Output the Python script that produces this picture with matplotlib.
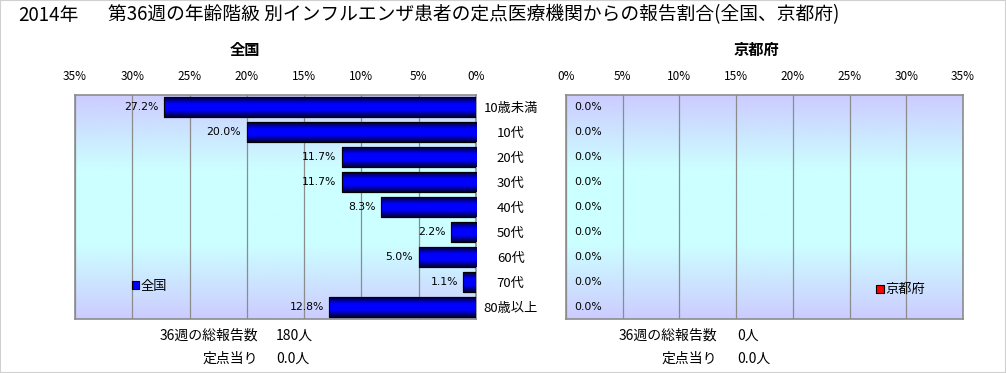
import numpy as np
import matplotlib
matplotlib.use("Agg")
import matplotlib.pyplot as plt
from matplotlib.colors import LinearSegmentedColormap
from matplotlib.patches import Rectangle

plt.rcParams['font.family'] = ['Noto Sans CJK JP', 'DejaVu Sans']

# data
ages = ['10歳未満', '10代', '20代', '30代', '40代', '50代', '60代', '70代', '80歳以上']
zenkoku = [27.2, 20.0, 11.7, 11.7, 8.3, 2.2, 5.0, 1.1, 12.8]
kyoto = [0.0, 0.0, 0.0, 0.0, 0.0, 0.0, 0.0, 0.0, 0.0]
xticks = [0, 5, 10, 15, 20, 25, 30, 35]
zen_total = '180人'
zen_per = '0.0人'
kyo_total = '0人'
kyo_per = '0.0人'

W, H = 1006, 373
fig = plt.figure(figsize=(W / 100, H / 100), dpi=100)
fig.patch.set_facecolor('white')
fig.patches.append(Rectangle((0, 0), 1, 1, transform=fig.transFigure, fill=False,
                             edgecolor='#d0d0d0', linewidth=1.5))

bg_cmap = LinearSegmentedColormap.from_list('bg', ['#ccccff', '#ccffff', '#ccffff', '#ccccff'])
bar_cmap = LinearSegmentedColormap.from_list('bar', ['#000033', '#0000ff', '#0000ff', '#000033'])
bar_cmap_r = LinearSegmentedColormap.from_list('barr', ['#330000', '#ff0000', '#ff0000', '#330000'])


def px_axes(x0, x1, y0, y1):
    return fig.add_axes([x0 / W, (H - y1) / H, (x1 - x0) / W, (y1 - y0) / H])


def panel(ax, vals, color, cmap, reverse):
    ax.imshow(np.linspace(0, 1, 200).reshape(-1, 1), cmap=bg_cmap, aspect='auto',
              extent=(0, 1, 0, 1), transform=ax.transAxes, zorder=0)
    bars = ax.barh(range(len(vals)), vals, height=0.8, color=color,
                   edgecolor='black', linewidth=0.8, zorder=3)
    grad = np.linspace(0, 1, 50).reshape(-1, 1)
    for p in bars.patches:
        if p.get_width() <= 0:
            p.set_linewidth(0)
            continue
        x0, y0 = p.get_x(), p.get_y()
        im = ax.imshow(grad, cmap=cmap, aspect='auto', zorder=3.5,
                       extent=(x0, x0 + p.get_width(), y0 + p.get_height(), y0))
        im.set_clip_path(p)
        ax.add_patch(Rectangle((x0, y0), p.get_width(), p.get_height(), fill=False,
                               edgecolor='black', linewidth=0.8, zorder=4))
    if reverse:
        ax.set_xlim(35, 0)
    else:
        ax.set_xlim(0, 35)
    ax.set_ylim(len(vals) - 0.5, -0.5)
    ax.set_xticks(xticks)
    ax.set_xticklabels([f'{t}%' for t in xticks])
    ax.xaxis.tick_top()
    ax.tick_params(axis='x', length=0, pad=9, labelsize=8.5)
    ax.grid(axis='x', color='#8c8c8c', linewidth=0.9, zorder=1)
    ax.set_axisbelow(True)
    for s in ax.spines.values():
        s.set_color('#8c8c8c')
        s.set_linewidth(1.2)
    for i, v in enumerate(vals):
        if reverse:
            ax.annotate(f'{v:.1f}%', (v, i), xytext=(-4, 0), textcoords='offset points',
                        ha='right', va='center', fontsize=7.8, zorder=5,
                        family=['DejaVu Sans'])
        else:
            ax.annotate(f'{v:.1f}%', (v, i), xytext=(6, 0), textcoords='offset points',
                        ha='left', va='center', fontsize=7.8, zorder=5,
                        family=['DejaVu Sans'])
    return bars


ax1 = px_axes(75, 476, 95, 319)
b1 = panel(ax1, zenkoku, '#0000ff', bar_cmap, True)
ax1.yaxis.tick_right()
ax1.set_yticks(range(len(ages)))
ax1.set_yticklabels(ages, ha='center')
ax1.tick_params(axis='y', length=0, pad=25, labelsize=9.5)
h1 = Rectangle((0, 0), 1, 1, facecolor='#0000ff', edgecolor='black', linewidth=0.8)
ax1.legend([h1], ['全国'], loc='center left', bbox_to_anchor=(0.125, 0.145),
           frameon=False, handlelength=0.55, handleheight=0.55, handletextpad=0.15,
           fontsize=9.5, borderpad=0)

ax2 = px_axes(566, 963, 95, 319)
b2 = panel(ax2, kyoto, '#ff0000', bar_cmap_r, False)
ax2.set_yticks([])
h2 = Rectangle((0, 0), 1, 1, facecolor='#ff0000', edgecolor='black', linewidth=0.8)
ax2.legend([h2], ['京都府'], loc='center left', bbox_to_anchor=(0.765, 0.13),
           frameon=False, handlelength=0.55, handleheight=0.55, handletextpad=0.15,
           fontsize=9.5, borderpad=0)

# titles
fig.text(18 / W, 1 - 15 / H, '2014年', fontsize=13.5, va='center', ha='left')
fig.text(108 / W, 1 - 15 / H,
         '第36週の年齢階級 別インフルエンザ患者の定点医療機関からの報告割合(全国、京都府)',
         fontsize=13.5, va='center', ha='left')
fig.text(245 / W, 1 - 50 / H, '全国', fontsize=11, fontweight='bold', ha='center', va='center')
fig.text(756 / W, 1 - 50 / H, '京都府', fontsize=11, fontweight='bold', ha='center', va='center')

# bottom notes
for xr, xl, tot, per in [(258, 276, zen_total, zen_per), (717, 737, kyo_total, kyo_per)]:
    fig.text(xr / W, 1 - 336 / H, '36週の総報告数', fontsize=10, ha='right', va='center')
    fig.text(xl / W, 1 - 336 / H, tot, fontsize=10, ha='left', va='center')
    fig.text(xr / W, 1 - 359 / H, '定点当り', fontsize=10, ha='right', va='center')
    fig.text(xl / W, 1 - 359 / H, per, fontsize=10, ha='left', va='center')

fig.savefig('out.png', dpi=100)
